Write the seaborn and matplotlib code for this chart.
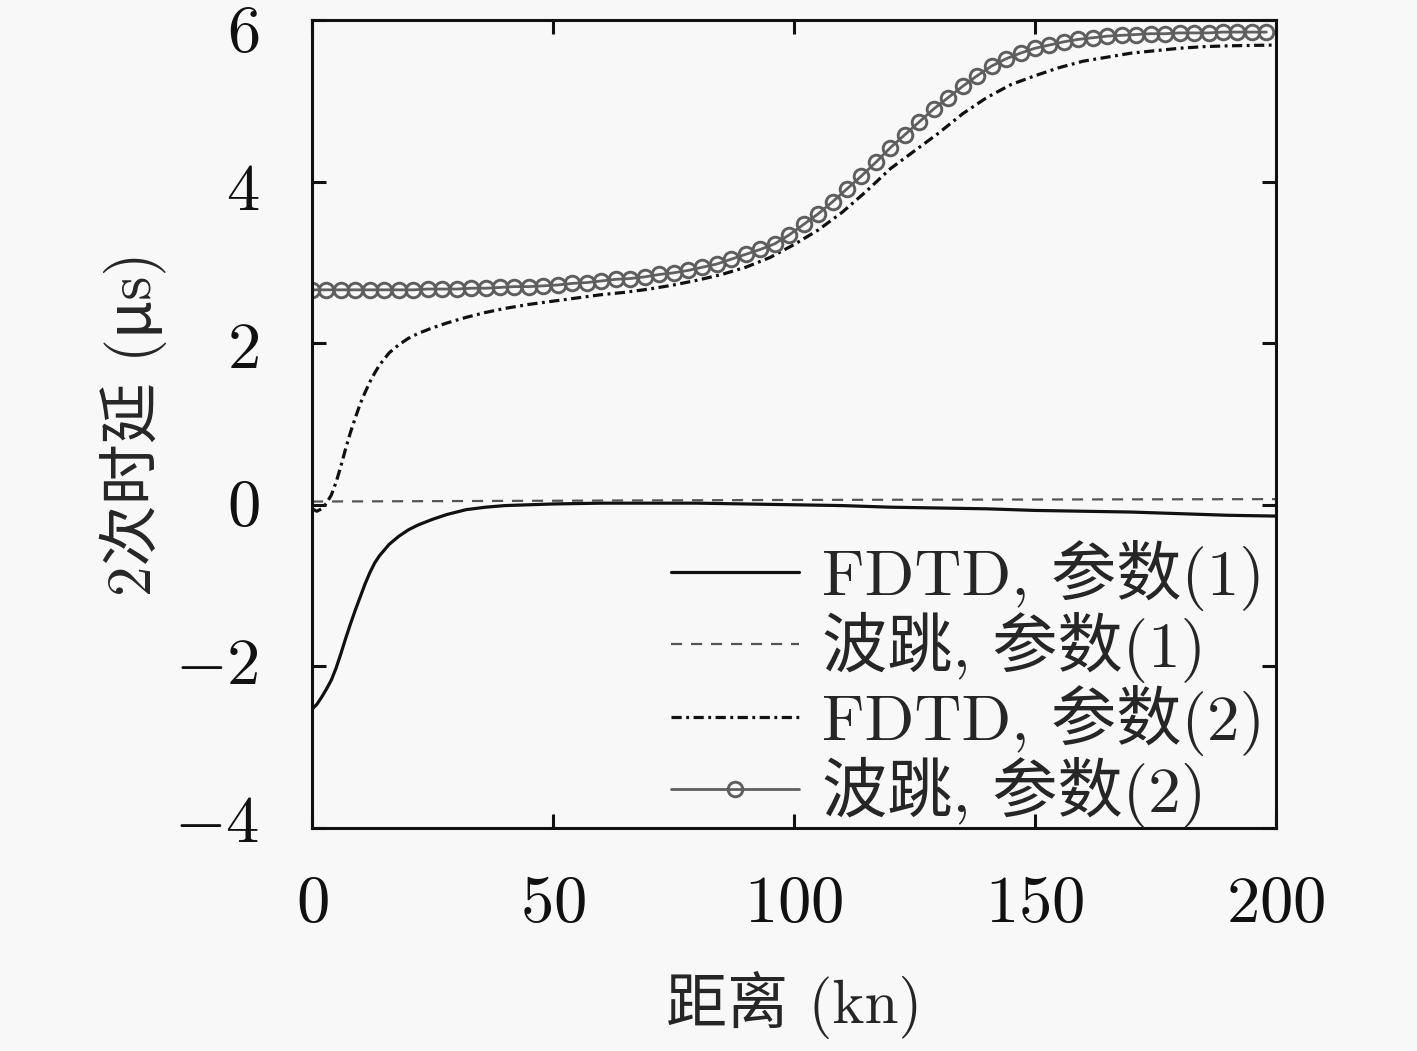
import numpy as np
import matplotlib
matplotlib.use('Agg')
import matplotlib.pyplot as plt
import matplotlib.transforms as mtransforms
import seaborn as sns
from matplotlib.ticker import FuncFormatter

# data
# FDTD, parameter set (1)
fdtd1_x = [0, 1, 2, 3, 4, 5, 6, 7, 8, 9, 10, 11, 12, 13, 14, 15, 16, 18, 20, 22, 25, 28,
           32, 36, 40, 45, 50, 60, 70, 80, 90, 100, 110, 120, 130, 140, 150, 160, 170,
           180, 190, 200]
fdtd1_y = [-2.53, -2.47, -2.38, -2.28, -2.17, -2.02, -1.84, -1.65, -1.47, -1.30, -1.14,
           -0.98, -0.84, -0.72, -0.63, -0.56, -0.49, -0.39, -0.31, -0.25, -0.18, -0.12,
           -0.06, -0.03, -0.01, 0.0, 0.01, 0.02, 0.02, 0.02, 0.01, 0.0, -0.01, -0.03,
           -0.04, -0.05, -0.07, -0.08, -0.09, -0.11, -0.13, -0.14]

# wave jump, parameter set (1)
wave1_x = [0, 50, 100, 150, 200]
wave1_y = [0.04, 0.05, 0.06, 0.065, 0.07]

# FDTD, parameter set (2)
fdtd2_x = [0, 1, 2, 3, 4, 5, 6, 7, 8, 9, 10, 11, 12, 13, 14, 16, 18, 20, 22, 25, 28, 32,
           36, 40, 45, 50, 55, 60, 65, 70, 75, 80, 85, 90, 95, 100, 105, 110, 115, 120,
           125, 130, 135, 140, 145, 150, 155, 160, 165, 170, 175, 180, 185, 190, 200]
fdtd2_y = [-0.05, -0.08, -0.05, 0.02, 0.12, 0.28, 0.48, 0.70, 0.90, 1.08, 1.25, 1.39,
           1.52, 1.63, 1.73, 1.88, 1.98, 2.06, 2.12, 2.19, 2.25, 2.32, 2.38, 2.43, 2.48,
           2.52, 2.56, 2.60, 2.63, 2.67, 2.72, 2.78, 2.85, 2.94, 3.06, 3.22, 3.40, 3.62,
           3.88, 4.16, 4.38, 4.60, 4.84, 5.04, 5.20, 5.31, 5.41, 5.49, 5.54, 5.59, 5.62,
           5.65, 5.67, 5.68, 5.69]

# wave jump, parameter set (2)
wave2_x = list(range(0, 199, 3))
wave2_y = [2.66, 2.66, 2.66, 2.66, 2.66, 2.66, 2.66, 2.66, 2.67, 2.67, 2.67, 2.68, 2.68,
           2.69, 2.70, 2.70, 2.71, 2.72, 2.74, 2.75, 2.77, 2.79, 2.80, 2.82, 2.85, 2.87,
           2.90, 2.94, 2.98, 3.04, 3.10, 3.16, 3.23, 3.34, 3.47, 3.60, 3.75, 3.91, 4.07,
           4.24, 4.42, 4.58, 4.74, 4.90, 5.04, 5.18, 5.31, 5.43, 5.52, 5.59, 5.65, 5.69,
           5.73, 5.76, 5.78, 5.80, 5.81, 5.82, 5.83, 5.83, 5.84, 5.84, 5.84, 5.85, 5.85,
           5.85, 5.85]

x_ticks = [0, 50, 100, 150, 200]
y_ticks = [-4, -2, 0, 2, 4, 6]

labels = ['FDTD, 参数(1)', '波跳, 参数(1)', 'FDTD, 参数(2)', '波跳, 参数(2)']

sns.set_theme(style='ticks')
bg = '#f8f8f8'
fams = ['cmr10', 'Noto Sans CJK SC', 'DejaVu Serif']
plt.rcParams['font.family'] = fams
plt.rcParams['mathtext.fontset'] = 'cm'
plt.rcParams['axes.unicode_minus'] = True
plt.rcParams['axes.formatter.use_mathtext'] = True

fig = plt.figure(figsize=(14.17, 10.51), dpi=100, facecolor=bg)
ax = fig.add_axes([0.2202, 0.2122, 0.6803, 0.7688])
ax.set_facecolor(bg)

sns.lineplot(x=fdtd1_x, y=fdtd1_y, ax=ax, color='#111111', linewidth=2.3, label=labels[0])
sns.lineplot(x=wave1_x, y=wave1_y, ax=ax, color='#555555', linewidth=1.6,
             linestyle=(0, (5, 4)), label=labels[1])
sns.lineplot(x=fdtd2_x, y=fdtd2_y, ax=ax, color='#111111', linewidth=2.3,
             linestyle=(0, (3.2, 1.4, 0.9, 1.4)), label=labels[2])
sns.lineplot(x=wave2_x, y=wave2_y, ax=ax, color='#606060', linewidth=2.0, marker='o',
             markersize=10.5, markerfacecolor='none', markeredgecolor='#5e5e5e',
             markeredgewidth=2.1, label=labels[3])

ax.set_xlim(0, 200)
ax.set_ylim(-4, 6)
ax.set_xticks(x_ticks)
ax.set_yticks(y_ticks)
ax.xaxis.set_major_formatter(FuncFormatter(lambda v, p: '$%d$' % v))
ax.yaxis.set_major_formatter(FuncFormatter(lambda v, p: '$%d$' % v))
ax.tick_params(direction='in', length=10, width=2.2, top=True, right=True,
               labelsize=48, colors='#111111')
ax.tick_params(axis='x', pad=34)
ax.tick_params(axis='y', pad=38)
for s in ax.spines.values():
    s.set_linewidth(2.2)
    s.set_color('#111111')

# y tick labels in the reference sit a little closer to the middle
fig.canvas.draw()
for v, lab in zip(y_ticks, ax.get_yticklabels()):
    dy = -(1.8 * v - 2) / 100.0
    lab.set_transform(lab.get_transform() + mtransforms.ScaledTranslation(0, dy, fig.dpi_scale_trans))

ax.set_xlabel('距离 (kn)', fontsize=44, labelpad=26, family=fams)
ax.set_ylabel('2次时延 (μs)', fontsize=44, labelpad=5, family=fams)

leg = ax.legend(loc='lower right', bbox_to_anchor=(0.9886, 0.0), frameon=False,
                prop={'family': fams, 'size': 47}, handlelength=1.95,
                handletextpad=0.36, labelspacing=0.02, borderaxespad=0.0, borderpad=0.0)

fig.savefig('out.png', dpi=100, facecolor=bg)
